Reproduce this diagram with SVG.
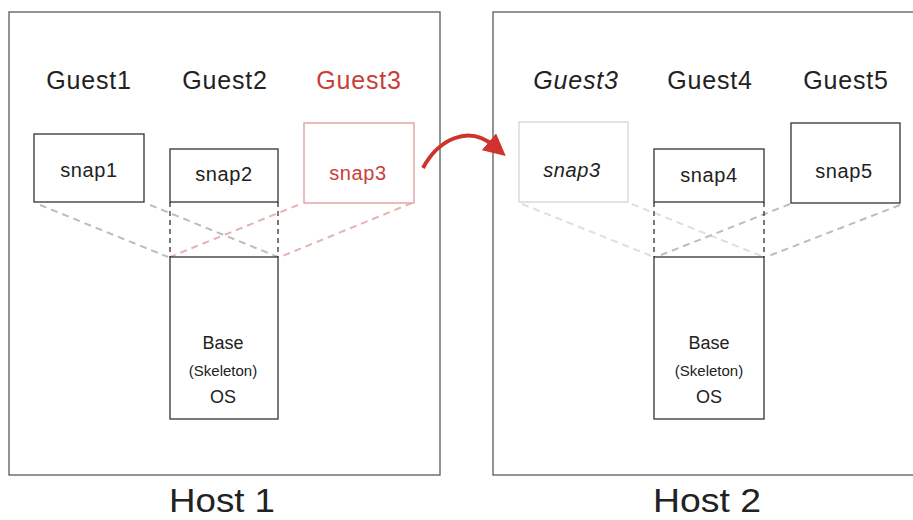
<svg xmlns="http://www.w3.org/2000/svg" width="913" height="520" viewBox="0 0 913 520">
<defs>
<style>
.host{fill:none;stroke:#5a5a5a;stroke-width:1.3}
.box{fill:#fff;stroke:#333;stroke-width:1.3}
.t{font-family:"Liberation Sans",Arial,sans-serif;fill:#222;text-anchor:middle}
.guest{font-size:25px;letter-spacing:0.8px}
.snap{font-size:20px;letter-spacing:0.6px}
.red{fill:#c8403a}
.gd{stroke:#bdbdbd;stroke-width:2;stroke-dasharray:7 5;fill:none}
.rd{stroke:#e6b3b0;stroke-width:2;stroke-dasharray:7 5;fill:none}
.fd{stroke:#dedede;stroke-width:2;stroke-dasharray:7 5;fill:none}
.vd{stroke:#333;stroke-width:1.3;stroke-dasharray:5 4;fill:none}
</style>
<marker id="ah" viewBox="0 0 10 10" refX="3" refY="5" markerWidth="5.5" markerHeight="5.5" orient="auto" markerUnits="strokeWidth">
<path d="M0,0 L10,5 L0,10 z" fill="#d0332d"/>
</marker>
</defs>
<rect width="913" height="520" fill="#fff"/>

<g id="host1">
<rect class="host" x="9" y="12" width="431" height="463"/>
<text class="t" x="222" y="512" font-size="34" textLength="106" lengthAdjust="spacingAndGlyphs">Host 1</text>
</g>
<g id="host2">
<rect class="host" x="493" y="12" width="425" height="463"/>
<text class="t" x="707" y="512" font-size="34" textLength="108" lengthAdjust="spacingAndGlyphs">Host 2</text>
</g>

<g id="connectors">
<line class="gd" x1="40" y1="205" x2="168" y2="257"/>
<line class="gd" x1="150" y1="205" x2="278" y2="257"/>
<line class="rd" x1="298" y1="205" x2="170" y2="257"/>
<line class="rd" x1="412" y1="203" x2="280" y2="257"/>
<line class="fd" x1="522" y1="204" x2="654" y2="257"/>
<line class="fd" x1="632" y1="204" x2="764" y2="257"/>
<line class="gd" x1="790" y1="204" x2="656" y2="257"/>
<line class="gd" x1="900" y1="205" x2="766" y2="257"/>
<line class="vd" x1="170" y1="202" x2="170" y2="257"/>
<line class="vd" x1="278" y1="202" x2="278" y2="257"/>
<line class="vd" x1="654" y1="202" x2="654" y2="257"/>
<line class="vd" x1="764" y1="202" x2="764" y2="257"/>
<path d="M423,168 C438,140 468,124 494,146" fill="none" stroke="#d0332d" stroke-width="4" marker-end="url(#ah)"/>
</g>

<g id="guest1">
<text class="t guest" x="89" y="89">Guest1</text>
<rect class="box" x="34" y="134" width="110" height="68"/>
<text class="t snap" x="89" y="177">snap1</text>
</g>
<g id="guest2">
<text class="t guest" x="225" y="89">Guest2</text>
<rect class="box" x="170" y="149" width="108" height="53"/>
<text class="t snap" x="224" y="181">snap2</text>
</g>
<g id="guest3-host1">
<text class="t guest red" x="359" y="89">Guest3</text>
<rect x="304" y="123" width="110" height="80" fill="#fff" stroke="#e2a6a2" stroke-width="1.5"/>
<text class="t snap red" x="358" y="180">snap3</text>
</g>
<g id="base1">
<rect class="box" x="170" y="257" width="108" height="162"/>
<text class="t" x="223" y="349" font-size="18">Base</text>
<text class="t" x="223" y="376" font-size="15">(Skeleton)</text>
<text class="t" x="223" y="403" font-size="18">OS</text>
</g>

<g id="guest3-host2">
<text class="t guest" x="576" y="89" font-style="italic">Guest3</text>
<rect x="519" y="122" width="109" height="80" fill="#fff" stroke="#d4d4d4" stroke-width="1.3"/>
<text class="t snap" x="572" y="177" font-style="italic">snap3</text>
</g>
<g id="guest4">
<text class="t guest" x="710" y="89">Guest4</text>
<rect class="box" x="654" y="149" width="110" height="53"/>
<text class="t snap" x="709" y="182">snap4</text>
</g>
<g id="guest5">
<text class="t guest" x="846" y="89">Guest5</text>
<rect class="box" x="791" y="123" width="109" height="80"/>
<text class="t snap" x="844" y="178">snap5</text>
</g>
<g id="base2">
<rect class="box" x="654" y="257" width="110" height="162"/>
<text class="t" x="709" y="349" font-size="18">Base</text>
<text class="t" x="709" y="376" font-size="15">(Skeleton)</text>
<text class="t" x="709" y="403" font-size="18">OS</text>
</g>
</svg>
